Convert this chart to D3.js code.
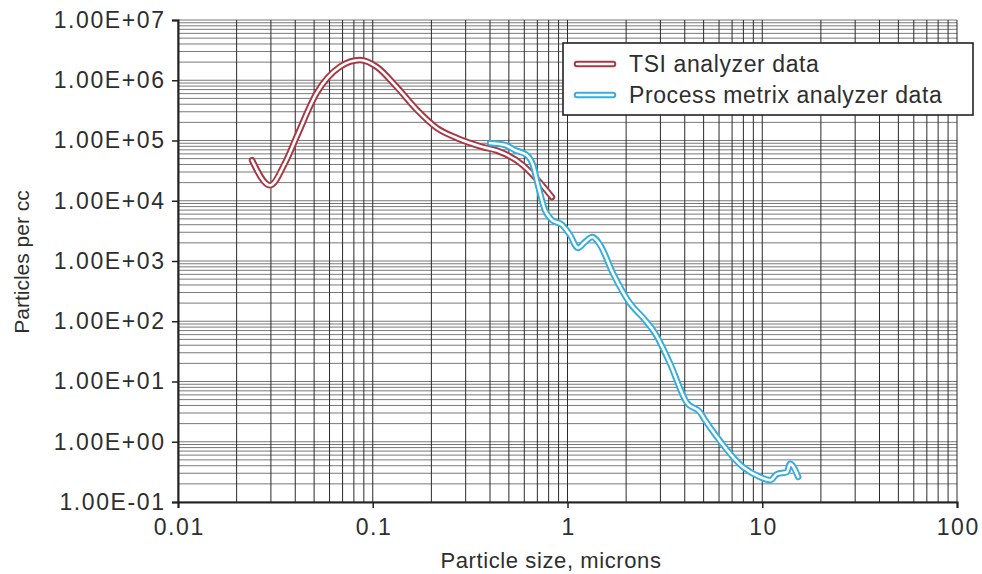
<!DOCTYPE html>
<html>
<head>
<meta charset="utf-8">
<script src="https://cdn.jsdelivr.net/npm/d3@7.9.0/dist/d3.min.js"></script>
<style>
  body { margin: 0; background: #fff; }
  svg { display: block; font-family: "Liberation Sans", Arial, sans-serif; }
</style>
</head>
<body>
<svg id="chart" width="982" height="574"></svg>
<script>
// particle size (microns) and counts
const tsiSize = [0.024, 0.0297, 0.0354, 0.0407, 0.0515, 0.068, 0.086, 0.105, 0.133, 0.169, 0.214, 0.27, 0.367, 0.434, 0.59, 0.722, 0.832];
const tsiCount = [4.7e4, 1.8e4, 4.2e4, 1.16e5, 6.1e5, 1.68e6, 2.17e6, 1.66e6, 7.7e5, 3.2e5, 1.6e5, 1.1e5, 7.8e4, 6.8e4, 3.9e4, 2.0e4, 1.15e4];

const pmSize = [0.40, 0.478, 0.538, 0.619, 0.665, 0.706, 0.766, 0.832, 0.937, 1.03, 1.13, 1.23, 1.34, 1.47, 1.71, 2.09, 2.5, 2.81, 3.36, 4.11, 4.79, 5.08, 5.86, 7.96, 9.73, 11.0, 11.9, 13.4, 13.9, 15.3];
const pmCount = [9.1e4, 8.4e4, 6.9e4, 5.7e4, 3.9e4, 1.8e4, 7.0e3, 4.8e3, 4.0e3, 2.7e3, 1.65e3, 2.07e3, 2.5e3, 1.85e3, 630, 200, 105, 64, 20, 4.4, 3.1, 2.3, 1.2, 0.38, 0.26, 0.23, 0.29, 0.315, 0.43, 0.26];

const xTicks = [0.01, 0.1, 1, 10, 100];
const xTickLabels = ['0.01', '0.1', '1', '10', '100'];
const yTicks = [1e-1, 1e0, 1e1, 1e2, 1e3, 1e4, 1e5, 1e6, 1e7];
const yTickLabels = ['1.00E-01', '1.00E+00', '1.00E+01', '1.00E+02', '1.00E+03', '1.00E+04', '1.00E+05', '1.00E+06', '1.00E+07'];

const seriesNames = ['TSI analyzer data', 'Process metrix analyzer data'];
const seriesColors = ['#a83843', '#36aedb'];

const margin = { left: 178, top: 20, right: 25, bottom: 72 };
const width = 982, height = 574;

const svg = d3.select('#chart');

const x = d3.scaleLog().domain([0.01, 100]).range([margin.left, width - margin.right]);
const y = d3.scaleLog().domain([0.1, 1e7]).range([height - margin.bottom, margin.top]);

// minor values 1..9 per decade
function logLines(lo, hi) {
  let out = [];
  for (let e = Math.log10(lo); e < Math.log10(hi); e++) {
    for (let m = 1; m <= 9; m++) out.push(m * Math.pow(10, e));
  }
  out.push(hi);
  return out;
}

const grid = svg.append('g');
grid.selectAll('line.h')
  .data(logLines(0.1, 1e7))
  .join('line')
  .attr('x1', x.range()[0]).attr('x2', x.range()[1])
  .attr('y1', (d) => y(d)).attr('y2', (d) => y(d))
  .attr('stroke', '#6a6a6a')
  .attr('stroke-width', 0.9);

grid.selectAll('line.v')
  .data(logLines(0.01, 100))
  .join('line')
  .attr('x1', (d) => x(d)).attr('x2', (d) => x(d))
  .attr('y1', y.range()[0]).attr('y2', y.range()[1])
  .attr('stroke', '#2a2a2a')
  .attr('stroke-width', 1);

// axes
const xAxis = d3.axisBottom(x).tickValues(xTicks).tickFormat((d, i) => xTickLabels[i]).tickSize(6).tickPadding(11);
const yAxis = d3.axisLeft(y).tickValues(yTicks).tickFormat((d, i) => yTickLabels[i]).tickSize(6).tickPadding(8);

const gx = svg.append('g').attr('transform', `translate(0,${y.range()[0]})`).call(xAxis);
const gy = svg.append('g').attr('transform', `translate(${margin.left},0)`).call(yAxis);

[gx, gy].forEach((g) => {
  g.select('.domain').attr('stroke', '#222').attr('stroke-width', 2);
  g.selectAll('.tick line').attr('stroke', '#222').attr('stroke-width', 1.5);
  g.selectAll('.tick text')
    .attr('fill', '#2e2e2e')
    .style('font-size', '23px')
    .style('letter-spacing', '1.6px');
});
gx.selectAll('.tick text').attr('dx', '0.8px');
gy.selectAll('.tick text').attr('dx', '1.6px');

// axis titles
svg.append('text')
  .attr('x', 551).attr('y', 568)
  .attr('text-anchor', 'middle')
  .attr('fill', '#2e2e2e')
  .style('font-size', '22px')
  .style('letter-spacing', '0.6px')
  .text('Particle size, microns');

svg.append('text')
  .attr('transform', 'translate(29,262) rotate(-90)')
  .attr('text-anchor', 'middle')
  .attr('fill', '#2e2e2e')
  .style('font-size', '21px')
  .text('Particles per cc');

// curves: coloured outline with a white core
const line = d3.line()
  .x((d) => x(d[0]))
  .y((d) => y(d[1]))
  .curve(d3.curveMonotoneX);

const series = [
  d3.zip(tsiSize, tsiCount),
  d3.zip(pmSize, pmCount)
];

series.forEach((pts, i) => {
  svg.append('path')
    .attr('d', line(pts))
    .attr('fill', 'none')
    .attr('stroke', seriesColors[i])
    .attr('stroke-width', 6.5)
    .attr('stroke-linejoin', 'round')
    .attr('stroke-linecap', 'round');
  svg.append('path')
    .attr('d', line(pts))
    .attr('fill', 'none')
    .attr('stroke', '#fff')
    .attr('stroke-width', 2.6)
    .attr('stroke-linejoin', 'round')
    .attr('stroke-linecap', 'round');
});

// legend
const legend = svg.append('g');
legend.append('rect')
  .attr('x', 563).attr('y', 43)
  .attr('width', 410).attr('height', 72)
  .attr('fill', '#fff')
  .attr('stroke', '#222')
  .attr('stroke-width', 1.6);

seriesNames.forEach((name, i) => {
  const ly = 64 + i * 31;
  legend.append('line')
    .attr('x1', 577).attr('x2', 613)
    .attr('y1', ly).attr('y2', ly)
    .attr('stroke', seriesColors[i])
    .attr('stroke-width', 6.5)
    .attr('stroke-linecap', 'round');
  legend.append('line')
    .attr('x1', 577).attr('x2', 613)
    .attr('y1', ly).attr('y2', ly)
    .attr('stroke', '#fff')
    .attr('stroke-width', 2.6)
    .attr('stroke-linecap', 'round');
  legend.append('text')
    .attr('x', 629).attr('y', ly + 8)
    .attr('fill', '#2e2e2e')
    .style('font-size', '23px')
    .style('letter-spacing', '0.6px')
    .text(name);
});
</script>
</body>
</html>
